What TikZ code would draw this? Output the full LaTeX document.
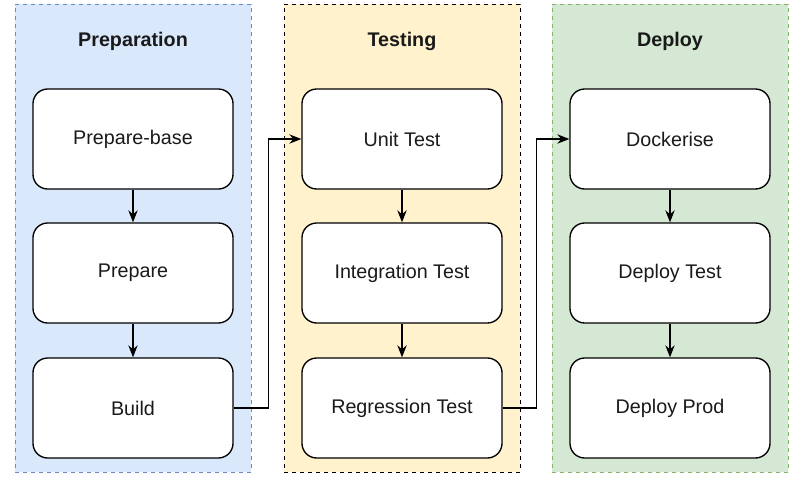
\documentclass[tikz,border=0pt]{standalone}
\usepackage{fontspec}
\setmainfont{Liberation Sans}
\usetikzlibrary{positioning, calc, arrows.meta}

\definecolor{prepfill}{HTML}{DAE8FC}
\definecolor{prepline}{HTML}{6C8EBF}
\definecolor{testfill}{HTML}{FFF2CC}
\definecolor{depfill}{HTML}{D5E8D4}
\definecolor{depline}{HTML}{82B366}
\definecolor{txt}{HTML}{1A1A1A}

\begin{document}
\begin{tikzpicture}[x=0.75pt, y=-0.75pt,
	font=\fontsize{14.8}{17}\selectfont, text=txt,
	lane/.style={draw, dashed, line width=0.7pt, minimum width=177pt, minimum height=351pt, inner sep=0pt},
	stage/.style={draw, fill=white, rounded corners=11pt, line width=1pt, minimum width=150pt, minimum height=75pt, inner sep=0pt},
	title/.style={font=\fontsize{14.8}{17}\selectfont\bfseries},
	flow/.style={-{Stealth[length=9pt, width=7pt]}, line width=1pt}]
			\useasboundingbox (0,0) rectangle (790,476);
			% lanes
			\node (prep) [lane, draw=prepline, fill=prepfill] at (133,238) {};
			\node (test) [lane, draw=black, fill=testfill] at (402,238) {};
			\node (dep) [lane, draw=depline, fill=depfill] at (670,238) {};
			\node (t1) [title] at (133,41) {Preparation};
			\node (t2) [title] at (402,41) {Testing};
			\node (t3) [title] at (670,41) {Deploy};
			
			% stages
			\node (pbase) [stage] at (133,139) {Prepare-base};
			\node (prepare) [stage] at (133,273) {Prepare};
			\node (build) [stage] at (133,408) {Build};
			\node (unit) [stage] at (402,139) {Unit Test};
			\node (integ) [stage] at (402,273) {Integration Test};
			\node (regr) [stage] at (402,408) {Regression Test};
			\node (docker) [stage] at (670,139) {Dockerise};
			\node (dtest) [stage] at (670,273) {Deploy Test};
			\node (dprod) [stage] at (670,408) {Deploy Prod};
			
			\draw [flow] (pbase) -- (prepare);
			\draw [flow] (prepare) -- (build);
			\draw [flow] (unit) -- (integ);
			\draw [flow] (integ) -- (regr);
			\draw [flow] (docker) -- (dtest);
			\draw [flow] (dtest) -- (dprod);
			
			\draw [flow] (build.east) -- ++(35,0) |- (unit.west);
			\draw [flow] (regr.east) -- ++(34,0) |- (docker.west);
		\end{tikzpicture}
\end{document}
